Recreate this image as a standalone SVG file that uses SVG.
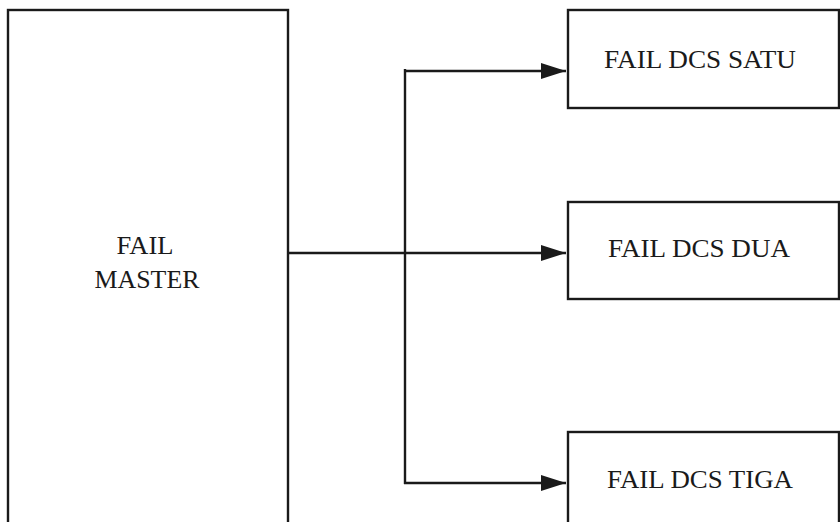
<svg xmlns="http://www.w3.org/2000/svg" width="840" height="522" viewBox="0 0 840 522">
<style>
.box{fill:#fff;stroke:#1a1a1a;stroke-width:2.4}
.lbl{font-family:"Liberation Serif","Times New Roman",serif;font-size:25px;fill:#1a1a1a}
.ln{stroke:#1a1a1a;stroke-width:2.4;fill:none}
</style>
<defs>
<marker id="ah" markerUnits="userSpaceOnUse" markerWidth="26" markerHeight="18" refX="25" refY="9" orient="auto">
<path d="M0,1 L25,9 L0,17 Z" fill="#1a1a1a"/>
</marker>
</defs>
<rect width="840" height="522" fill="#fff"/>
<g id="master">
<rect class="box" x="8" y="10" width="280" height="530"/>
<text class="lbl" x="145" y="254" text-anchor="middle" textLength="57" lengthAdjust="spacingAndGlyphs">FAIL</text>
<text class="lbl" x="147" y="288" text-anchor="middle" textLength="105" lengthAdjust="spacingAndGlyphs">MASTER</text>
</g>
<g id="satu">
<rect class="box" x="568" y="10" width="271" height="98"/>
<text class="lbl" x="700" y="68" text-anchor="middle" textLength="192" lengthAdjust="spacingAndGlyphs">FAIL DCS SATU</text>
</g>
<g id="dua">
<rect class="box" x="568" y="202" width="271" height="97"/>
<text class="lbl" x="699" y="257" text-anchor="middle" textLength="182" lengthAdjust="spacingAndGlyphs">FAIL DCS DUA</text>
</g>
<g id="tiga">
<rect class="box" x="568" y="432" width="271" height="110"/>
<text class="lbl" x="700" y="488" text-anchor="middle" textLength="186" lengthAdjust="spacingAndGlyphs">FAIL DCS TIGA</text>
</g>
<g id="connectors">
<line class="ln" x1="405" y1="69" x2="405" y2="484"/>
<line class="ln" x1="405" y1="71" x2="566" y2="71" marker-end="url(#ah)"/>
<line class="ln" x1="288" y1="253" x2="566" y2="253" marker-end="url(#ah)"/>
<line class="ln" x1="404" y1="483" x2="566" y2="483" marker-end="url(#ah)"/>
</g>
</svg>
